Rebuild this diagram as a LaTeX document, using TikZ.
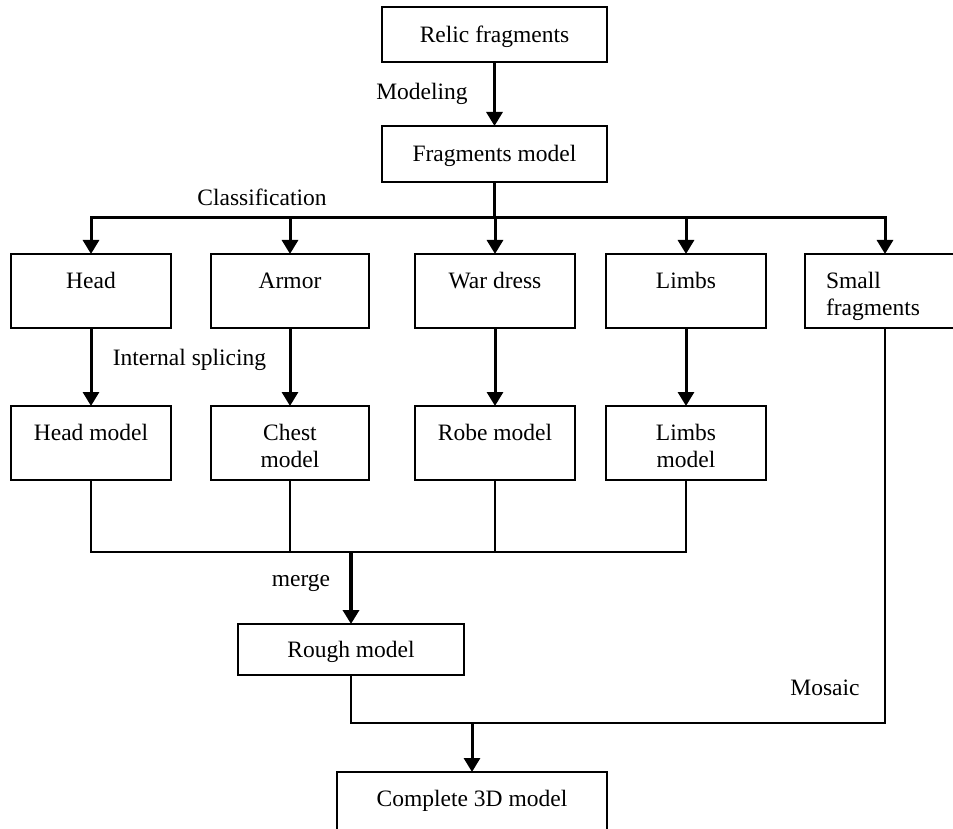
\documentclass[tikz,border=0pt]{standalone}
\usepackage{fontspec}
\setmainfont{Liberation Serif}
\usetikzlibrary{arrows.meta}
\begin{document}
\begin{tikzpicture}[x=1pt,y=-1pt,
  font=\fontsize{23.5}{27}\selectfont,
  box/.style={draw, line width=2pt, inner sep=0pt, outer sep=0pt, minimum width=160pt, minimum height=74pt, text height=16pt, text depth=22pt, align=center},
  onebox/.style={draw, line width=2pt, inner sep=0pt, outer sep=0pt, minimum height=55pt, text height=16pt, text depth=0pt},
  arr/.style={line width=3pt, -{Triangle[width=16pt,length=14pt]}},
  thinline/.style={line width=2pt},
  lbl/.style={anchor=base, inner sep=0pt}
]
\useasboundingbox (0,0) rectangle (953,829);
\clip (0,0) rectangle (953,829);

% top
\node[onebox, minimum width=225pt] (relic) at (494.5,34.5) {Relic fragments};
\node[onebox, minimum width=225pt, minimum height=56pt] (fragm) at (494.5,154) {Fragments model};

% row 1
\node[box] (head) at (91,291) {Head};
\node[box, minimum width=158pt] (armor) at (290,291) {Armor};
\node[box] (war) at (495,291) {War dress};
\node[box] (limbs) at (686,291) {Limbs};
\node[box, text width=118pt, align=left] (small) at (885,291) {Small\\fragments};

% row 2
\node[box] (headm) at (91,443) {Head model};
\node[box, minimum width=158pt, text width=150pt] (chest) at (290,443) {Chest\\model};
\node[box] (robe) at (495,443) {Robe model};
\node[box, text width=150pt] (limbsm) at (686,443) {Limbs\\model};

% bottom
\node[onebox, minimum width=226pt, minimum height=51pt] (rough) at (351,649.5) {Rough model};
\node[box, minimum width=270pt] (complete) at (472,809) {Complete 3D model};

% labels
\node[lbl] (modeling) at (422,100) {Modeling};
\node[lbl] (classif) at (262,206) {Classification};
\node[lbl] (splice) at (189.5,365) {Internal splicing};
\node[lbl] (merge) at (301,586) {merge};
\node[lbl] (mosaic) at (825,695) {Mosaic};

% connectors
\draw[arr] (relic) -- (fragm);
\coordinate (bus) at (494.5,218);
\draw[line width=3pt] (fragm.south) -- (bus);
\foreach \n in {head,armor,war,limbs,small}
  \draw[arr] (bus) -| (\n.north);

\draw[arr] (head) -- (headm);
\draw[arr] (armor) -- (chest);
\draw[arr] (war) -- (robe);
\draw[arr] (limbs) -- (limbsm);

\coordinate (mg) at (351,552);
\foreach \n in {headm,chest,robe,limbsm}
  \draw[thinline] (\n.south) |- (mg);
\draw[arr, line width=3.5pt] (mg) -- (rough.north);

\coordinate (jn) at (472,723);
\draw[thinline] (rough.south) |- (jn);
\draw[thinline] (small.south) |- (jn);
\draw[arr] (jn) -- (complete.north);
\end{tikzpicture}
\end{document}
